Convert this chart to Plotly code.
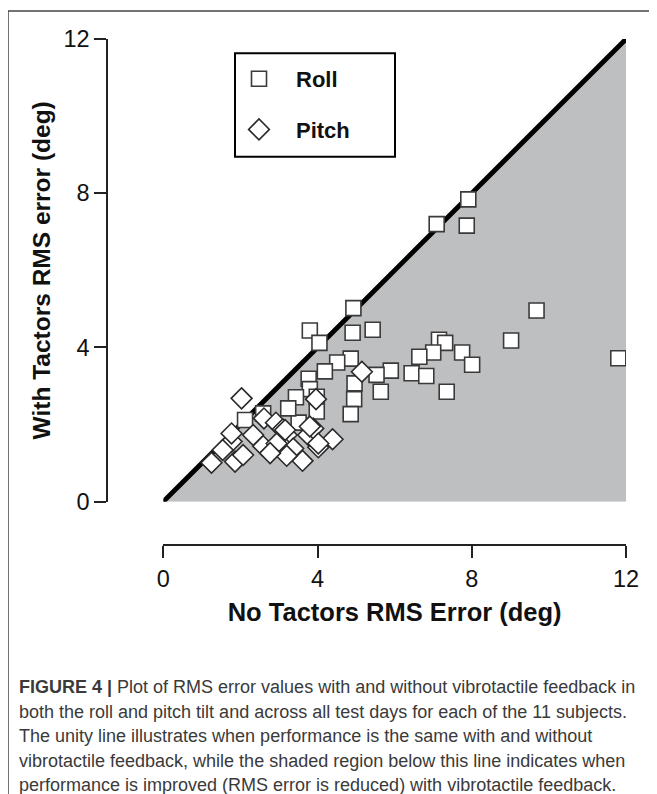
import plotly.graph_objects as go

# Roll: no tactors vs with tactors RMS error (deg)
roll_x = [7.91, 7.09, 7.87, 4.93, 4.91, 5.43, 9.68, 9.02, 7.15, 7.31, 7.00, 7.75, 6.64,
          8.01, 6.44, 6.82, 5.90, 5.53, 7.35, 5.64, 4.86, 4.96, 4.95, 4.86, 11.8, 3.80,
          4.05, 4.51, 4.19, 3.77, 3.80, 3.44, 3.98, 3.98, 3.51, 3.24, 2.12, 2.59]
roll_y = [7.84, 7.20, 7.16, 5.02, 4.38, 4.46, 4.96, 4.18, 4.20, 4.12, 3.87, 3.87, 3.76,
          3.55, 3.33, 3.26, 3.40, 3.29, 2.85, 2.85, 3.71, 3.07, 2.66, 2.27, 3.72, 4.44,
          4.12, 3.61, 3.38, 3.19, 2.92, 2.71, 2.72, 2.34, 2.05, 2.42, 2.12, 2.29]

# Pitch
pitch_x = [2.03, 5.15, 3.96, 2.61, 2.92, 3.10, 3.20, 3.03, 2.59, 2.33, 3.37, 3.76, 3.89, 4.02,
           3.61, 4.39, 1.77, 1.54, 1.25, 1.86, 2.07, 1.77, 3.20, 3.80, 4.02, 2.94, 2.77, 3.16]
pitch_y = [2.68, 3.37, 2.66, 2.16, 2.05, 1.88, 1.73, 1.51, 1.44, 1.73, 1.38, 1.73, 1.90, 1.41,
           1.06, 1.62, 1.56, 1.34, 1.01, 1.04, 1.21, 1.77, 1.19, 1.95, 1.51, 1.51, 1.26, 1.86]

unity = [0, 12]
ticks = [0, 4, 8, 12]

caption_lines = [
    "<b>FIGURE 4 |</b> Plot of RMS error values with and without vibrotactile feedback in",
    "both the roll and pitch tilt and across all test days for each of the 11 subjects.",
    "The unity line illustrates when performance is the same with and without",
    "vibrotactile feedback, while the shaded region below this line indicates when",
    "performance is improved (RMS error is reduced) with vibrotactile feedback.",
]

# the page puts the figure 8px in from the top-left corner
OFF = 8
W, H = 657 - OFF, 794 - OFF
ML, MR, MT, MB = 107 - OFF, 31, 39 - OFF, 249
PW, PH = W - ML - MR, H - MT - MB


def px(x):
    # screen x (px) -> paper
    return (x - OFF - ML) / PW


def py(y):
    # screen y (px) -> paper
    return (H - MB - (y - OFF)) / PH


FONT = "Arial, Liberation Sans, sans-serif"

fig = go.Figure()

# shaded region below unity line
fig.add_trace(go.Scatter(
    x=[unity[0], unity[1], unity[1], unity[0]],
    y=[unity[0], unity[0], unity[1], unity[0]],
    mode='lines', fill='toself', fillcolor='#bebfc1',
    line=dict(width=0), showlegend=False, hoverinfo='skip'
))

# unity line
fig.add_trace(go.Scatter(
    x=unity, y=unity, mode='lines',
    line=dict(color='black', width=4.8),
    showlegend=False, hoverinfo='skip'
))

fig.add_trace(go.Scatter(
    x=roll_x, y=roll_y, mode='markers', name='<b>Roll</b>', legendgroup='roll',
    marker=dict(symbol='square', size=15, color='white', line=dict(color='#3a3a3a', width=1.6))
))

fig.add_trace(go.Scatter(
    x=pitch_x, y=pitch_y, mode='markers', name='<b>Pitch</b>', legendgroup='pitch',
    marker=dict(symbol='diamond', size=16, color='white', line=dict(color='#2a2a2a', width=1.6))
))

fig.update_layout(
    width=W, height=H,
    margin=dict(l=ML, r=MR, t=MT, b=MB),
    paper_bgcolor='white', plot_bgcolor='white',
    font=dict(family=FONT, color='#111'),
    xaxis=dict(
        domain=[px(163.3), 1], range=[0, 12], anchor='free', position=0,
        tickvals=ticks, ticks='outside', ticklen=12, tickwidth=1.5, tickcolor='#222',
        showline=True, linecolor='#222', linewidth=1.5,
        showgrid=False, zeroline=False,
        tickfont=dict(size=23.5), ticklabelstandoff=1,
        title=dict(text='<b>No Tactors RMS Error (deg)</b>', font=dict(size=25.5), standoff=11),
    ),
    yaxis=dict(
        domain=[py(501.7), 1], range=[0, 12], anchor='free', position=0,
        tickvals=ticks, ticks='outside', ticklen=12, tickwidth=1.5, tickcolor='#222',
        showline=True, linecolor='#222', linewidth=1.5,
        showgrid=False, zeroline=False,
        tickfont=dict(size=23.5), ticklabelstandoff=0,
        title=dict(text='<b>With Tactors RMS error (deg)</b>', font=dict(size=24.5), standoff=5),
    ),
    legend=dict(
        x=px(222), y=py(58), xanchor='left', yanchor='top',
        bgcolor='rgba(0,0,0,0)', borderwidth=0,
        font=dict(size=22, color='#111'),
        traceorder='grouped', tracegroupgap=19, itemwidth=64,
    ),
    showlegend=True,
)

# legend frame
fig.add_shape(type='rect', xref='paper', yref='paper',
              x0=px(235), x1=px(395), y0=py(156.7), y1=py(53.3),
              line=dict(color='black', width=2))

# outer figure frame (top and left edges)
fig.add_shape(type='line', xref='paper', yref='paper',
              x0=px(8), x1=px(660), y0=py(11), y1=py(11),
              line=dict(color='#444', width=1.5))
fig.add_shape(type='line', xref='paper', yref='paper',
              x0=px(8), x1=px(8), y0=py(11), y1=py(800),
              line=dict(color='#444', width=1.5))

# caption
for i, line in enumerate(caption_lines):
    fig.add_annotation(
        xref='paper', yref='paper', x=px(17), y=py(687 + 24.5 * i),
        xanchor='left', yanchor='middle', showarrow=False, align='left',
        text=line, font=dict(size=18, color='#3a3a3a', family=FONT)
    )

fig.write_html("out.html")
